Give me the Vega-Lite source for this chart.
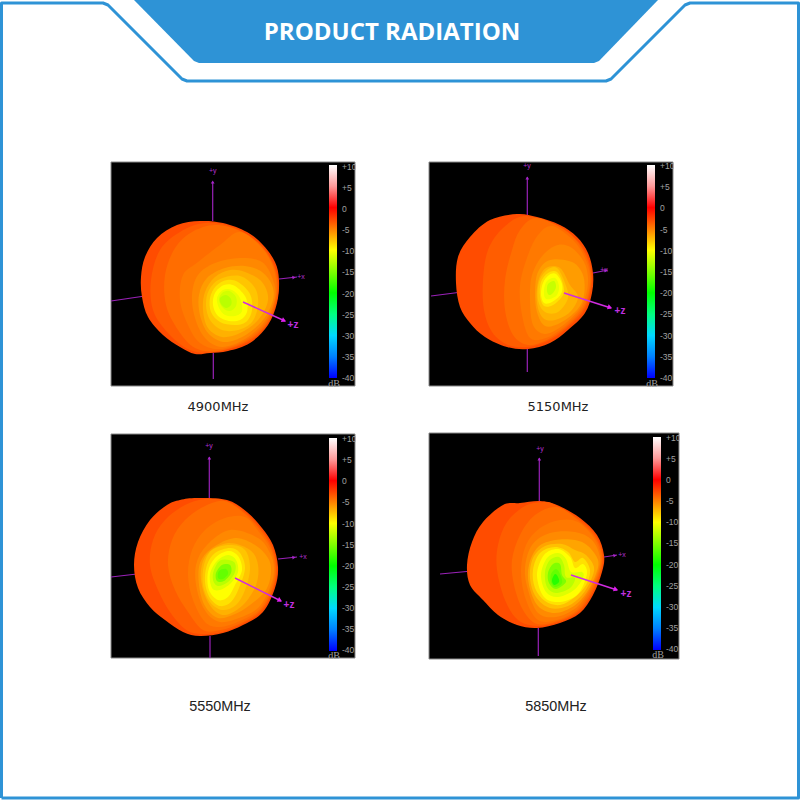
{"$schema":"https://vega.github.io/schema/vega-lite/v6.json","width":800,"height":800,"padding":0,"autosize":{"type":"none"},"background":"white","config":{"view":{"stroke":null}},
"datasets":{
"frame":[{"i":1,"x":1.5,"y":798},{"i":2,"x":1.5,"y":3},{"i":3,"x":103,"y":3},{"i":4,"x":108,"y":5},{"i":5,"x":182,"y":79},{"i":6,"x":187,"y":81},{"i":7,"x":606,"y":81},{"i":8,"x":611,"y":79},{"i":9,"x":685,"y":5},{"i":10,"x":690,"y":3},{"i":11,"x":798.5,"y":3},{"i":12,"x":798.5,"y":798},{"i":13,"x":1.5,"y":798}],
"banner":[{"i":1,"x":134,"y":0},{"i":2,"x":194,"y":61},{"i":3,"x":199,"y":63},{"i":4,"x":594,"y":63},{"i":5,"x":599,"y":61},{"i":6,"x":658,"y":0}],
"panels":[{"x":111,"x2":355,"y":162,"y2":386},{"x":429,"x2":673,"y":162,"y2":386},{"x":111,"x2":355,"y":434,"y2":658},{"x":429,"x2":679,"y":433,"y2":659}],
"bars":[{"x":329,"x2":337,"y":165,"y2":378},{"x":647,"x2":655,"y":165,"y2":378},{"x":329,"x2":337,"y":438,"y2":651},{"x":653,"x2":661,"y":437,"y2":650}],
"contours":[
{"c":"a0","i":1,"x":200,"y":221,"d":-1.9},{"c":"a0","i":2,"x":223,"y":223,"d":-1.9},{"c":"a0","i":3,"x":247,"y":232,"d":-1.9},{"c":"a0","i":4,"x":263,"y":245,"d":-1.9},{"c":"a0","i":5,"x":275,"y":262,"d":-1.9},{"c":"a0","i":6,"x":279,"y":280,"d":-1.9},{"c":"a0","i":7,"x":277,"y":303,"d":-1.9},{"c":"a0","i":8,"x":268,"y":325,"d":-1.9},{"c":"a0","i":9,"x":250,"y":343,"d":-1.9},{"c":"a0","i":10,"x":228,"y":351,"d":-1.9},{"c":"a0","i":11,"x":210,"y":353,"d":-1.9},{"c":"a0","i":12,"x":195,"y":354,"d":-1.9},{"c":"a0","i":13,"x":180,"y":347,"d":-1.9},{"c":"a0","i":14,"x":163,"y":335,"d":-1.9},{"c":"a0","i":15,"x":148,"y":317,"d":-1.9},{"c":"a0","i":16,"x":142,"y":297,"d":-1.9},{"c":"a0","i":17,"x":141,"y":277,"d":-1.9},{"c":"a0","i":18,"x":145,"y":257,"d":-1.9},{"c":"a0","i":19,"x":157,"y":238,"d":-1.9},{"c":"a0","i":20,"x":177,"y":225,"d":-1.9},
{"c":"a1","i":1,"x":205,"y":223,"d":-2.8},{"c":"a1","i":2,"x":235,"y":228,"d":-2.8},{"c":"a1","i":3,"x":262,"y":246,"d":-2.8},{"c":"a1","i":4,"x":276,"y":270,"d":-2.8},{"c":"a1","i":5,"x":278,"y":295,"d":-2.8},{"c":"a1","i":6,"x":268,"y":323,"d":-2.8},{"c":"a1","i":7,"x":248,"y":342,"d":-2.8},{"c":"a1","i":8,"x":215,"y":352,"d":-2.8},{"c":"a1","i":9,"x":190,"y":350,"d":-2.8},{"c":"a1","i":10,"x":168,"y":333,"d":-2.8},{"c":"a1","i":11,"x":153,"y":310,"d":-2.8},{"c":"a1","i":12,"x":151,"y":280,"d":-2.8},{"c":"a1","i":13,"x":160,"y":250,"d":-2.8},{"c":"a1","i":14,"x":180,"y":232,"d":-2.8},
{"c":"a2","i":1,"x":215,"y":225,"d":-3.7},{"c":"a2","i":2,"x":240,"y":231,"d":-3.7},{"c":"a2","i":3,"x":262,"y":247,"d":-3.7},{"c":"a2","i":4,"x":275,"y":270,"d":-3.7},{"c":"a2","i":5,"x":277,"y":295,"d":-3.7},{"c":"a2","i":6,"x":267,"y":323,"d":-3.7},{"c":"a2","i":7,"x":247,"y":341,"d":-3.7},{"c":"a2","i":8,"x":218,"y":351,"d":-3.7},{"c":"a2","i":9,"x":195,"y":348,"d":-3.7},{"c":"a2","i":10,"x":178,"y":330,"d":-3.7},{"c":"a2","i":11,"x":166,"y":305,"d":-3.7},{"c":"a2","i":12,"x":165,"y":275,"d":-3.7},{"c":"a2","i":13,"x":175,"y":248,"d":-3.7},{"c":"a2","i":14,"x":192,"y":232,"d":-3.7},
{"c":"a3","i":1,"x":240,"y":232,"d":-4.5},{"c":"a3","i":2,"x":262,"y":248,"d":-4.5},{"c":"a3","i":3,"x":274,"y":270,"d":-4.5},{"c":"a3","i":4,"x":276,"y":295,"d":-4.5},{"c":"a3","i":5,"x":266,"y":322,"d":-4.5},{"c":"a3","i":6,"x":246,"y":340,"d":-4.5},{"c":"a3","i":7,"x":220,"y":349,"d":-4.5},{"c":"a3","i":8,"x":200,"y":343,"d":-4.5},{"c":"a3","i":9,"x":188,"y":325,"d":-4.5},{"c":"a3","i":10,"x":180,"y":300,"d":-4.5},{"c":"a3","i":11,"x":183,"y":275,"d":-4.5},{"c":"a3","i":12,"x":198,"y":262,"d":-4.5},{"c":"a3","i":13,"x":220,"y":245,"d":-4.5},
{"c":"a4","i":1,"x":262,"y":262,"d":-5.3},{"c":"a4","i":2,"x":273,"y":280,"d":-5.3},{"c":"a4","i":3,"x":275,"y":298,"d":-5.3},{"c":"a4","i":4,"x":265,"y":321,"d":-5.3},{"c":"a4","i":5,"x":245,"y":339,"d":-5.3},{"c":"a4","i":6,"x":222,"y":347,"d":-5.3},{"c":"a4","i":7,"x":205,"y":338,"d":-5.3},{"c":"a4","i":8,"x":195,"y":318,"d":-5.3},{"c":"a4","i":9,"x":192,"y":295,"d":-5.3},{"c":"a4","i":10,"x":198,"y":275,"d":-5.3},{"c":"a4","i":11,"x":215,"y":263,"d":-5.3},{"c":"a4","i":12,"x":240,"y":258,"d":-5.3},
{"c":"a5","i":1,"x":262,"y":272,"d":-6.1},{"c":"a5","i":2,"x":272,"y":285,"d":-6.1},{"c":"a5","i":3,"x":273,"y":300,"d":-6.1},{"c":"a5","i":4,"x":263,"y":320,"d":-6.1},{"c":"a5","i":5,"x":244,"y":336,"d":-6.1},{"c":"a5","i":6,"x":224,"y":342,"d":-6.1},{"c":"a5","i":7,"x":208,"y":333,"d":-6.1},{"c":"a5","i":8,"x":200,"y":315,"d":-6.1},{"c":"a5","i":9,"x":199,"y":295,"d":-6.1},{"c":"a5","i":10,"x":207,"y":278,"d":-6.1},{"c":"a5","i":11,"x":225,"y":268,"d":-6.1},{"c":"a5","i":12,"x":245,"y":266,"d":-6.1},
{"c":"a6","i":1,"x":245,"y":272,"d":-6.9},{"c":"a6","i":2,"x":262,"y":282,"d":-6.9},{"c":"a6","i":3,"x":268,"y":300,"d":-6.9},{"c":"a6","i":4,"x":258,"y":320,"d":-6.9},{"c":"a6","i":5,"x":240,"y":333,"d":-6.9},{"c":"a6","i":6,"x":222,"y":337,"d":-6.9},{"c":"a6","i":7,"x":208,"y":328,"d":-6.9},{"c":"a6","i":8,"x":203,"y":310,"d":-6.9},{"c":"a6","i":9,"x":205,"y":292,"d":-6.9},{"c":"a6","i":10,"x":215,"y":277,"d":-6.9},{"c":"a6","i":11,"x":230,"y":270,"d":-6.9},
{"c":"a7","i":1,"x":240,"y":276,"d":-7.7},{"c":"a7","i":2,"x":255,"y":288,"d":-7.7},{"c":"a7","i":3,"x":258,"y":305,"d":-7.7},{"c":"a7","i":4,"x":252,"y":322,"d":-7.7},{"c":"a7","i":5,"x":238,"y":330,"d":-7.7},{"c":"a7","i":6,"x":222,"y":330,"d":-7.7},{"c":"a7","i":7,"x":210,"y":320,"d":-7.7},{"c":"a7","i":8,"x":206,"y":305,"d":-7.7},{"c":"a7","i":9,"x":209,"y":290,"d":-7.7},{"c":"a7","i":10,"x":220,"y":279,"d":-7.7},
{"c":"a8","i":1,"x":238,"y":282,"d":-8.8},{"c":"a8","i":2,"x":250,"y":294,"d":-8.8},{"c":"a8","i":3,"x":252,"y":310,"d":-8.8},{"c":"a8","i":4,"x":246,"y":322,"d":-8.8},{"c":"a8","i":5,"x":234,"y":325,"d":-8.8},{"c":"a8","i":6,"x":220,"y":322,"d":-8.8},{"c":"a8","i":7,"x":211,"y":312,"d":-8.8},{"c":"a8","i":8,"x":210,"y":298,"d":-8.8},{"c":"a8","i":9,"x":216,"y":286,"d":-8.8},{"c":"a8","i":10,"x":227,"y":280,"d":-8.8},
{"c":"a9","i":1,"x":235,"y":286,"d":-10},{"c":"a9","i":2,"x":246,"y":298,"d":-10},{"c":"a9","i":3,"x":247,"y":312,"d":-10},{"c":"a9","i":4,"x":240,"y":320,"d":-10},{"c":"a9","i":5,"x":229,"y":321,"d":-10},{"c":"a9","i":6,"x":218,"y":316,"d":-10},{"c":"a9","i":7,"x":213,"y":305,"d":-10},{"c":"a9","i":8,"x":215,"y":293,"d":-10},{"c":"a9","i":9,"x":224,"y":285,"d":-10},
{"c":"a10","i":1,"x":232,"y":290,"d":-11},{"c":"a10","i":2,"x":240,"y":298,"d":-11},{"c":"a10","i":3,"x":242,"y":311,"d":-11},{"c":"a10","i":4,"x":235,"y":316,"d":-11},{"c":"a10","i":5,"x":225,"y":315,"d":-11},{"c":"a10","i":6,"x":219,"y":308,"d":-11},{"c":"a10","i":7,"x":217,"y":298,"d":-11},{"c":"a10","i":8,"x":223,"y":290,"d":-11},
{"c":"a11","i":1,"x":229,"y":291,"d":-12},{"c":"a11","i":2,"x":236,"y":297,"d":-12},{"c":"a11","i":3,"x":236,"y":306,"d":-12},{"c":"a11","i":4,"x":230,"y":311,"d":-12},{"c":"a11","i":5,"x":223,"y":308,"d":-12},{"c":"a11","i":6,"x":219,"y":300,"d":-12},{"c":"a11","i":7,"x":222,"y":293,"d":-12},
{"c":"a12","i":1,"x":226,"y":295,"d":-13},{"c":"a12","i":2,"x":231,"y":299,"d":-13},{"c":"a12","i":3,"x":231,"y":305,"d":-13},{"c":"a12","i":4,"x":226,"y":308,"d":-13},{"c":"a12","i":5,"x":221,"y":304,"d":-13},{"c":"a12","i":6,"x":220,"y":298,"d":-13},
{"c":"b0","i":1,"x":517,"y":214,"d":-1.9},{"c":"b0","i":2,"x":537,"y":217,"d":-1.9},{"c":"b0","i":3,"x":560,"y":225,"d":-1.9},{"c":"b0","i":4,"x":577,"y":237,"d":-1.9},{"c":"b0","i":5,"x":588,"y":253,"d":-1.9},{"c":"b0","i":6,"x":593,"y":273,"d":-1.9},{"c":"b0","i":7,"x":592,"y":293,"d":-1.9},{"c":"b0","i":8,"x":585,"y":313,"d":-1.9},{"c":"b0","i":9,"x":568,"y":330,"d":-1.9},{"c":"b0","i":10,"x":550,"y":343,"d":-1.9},{"c":"b0","i":11,"x":528,"y":349,"d":-1.9},{"c":"b0","i":12,"x":507,"y":347,"d":-1.9},{"c":"b0","i":13,"x":485,"y":337,"d":-1.9},{"c":"b0","i":14,"x":470,"y":323,"d":-1.9},{"c":"b0","i":15,"x":460,"y":307,"d":-1.9},{"c":"b0","i":16,"x":456,"y":283,"d":-1.9},{"c":"b0","i":17,"x":458,"y":257,"d":-1.9},{"c":"b0","i":18,"x":470,"y":237,"d":-1.9},{"c":"b0","i":19,"x":490,"y":220,"d":-1.9},
{"c":"b1","i":1,"x":525,"y":216,"d":-2.8},{"c":"b1","i":2,"x":557,"y":225,"d":-2.8},{"c":"b1","i":3,"x":575,"y":238,"d":-2.8},{"c":"b1","i":4,"x":587,"y":255,"d":-2.8},{"c":"b1","i":5,"x":592,"y":275,"d":-2.8},{"c":"b1","i":6,"x":590,"y":294,"d":-2.8},{"c":"b1","i":7,"x":583,"y":312,"d":-2.8},{"c":"b1","i":8,"x":566,"y":329,"d":-2.8},{"c":"b1","i":9,"x":548,"y":341,"d":-2.8},{"c":"b1","i":10,"x":528,"y":347,"d":-2.8},{"c":"b1","i":11,"x":508,"y":345,"d":-2.8},{"c":"b1","i":12,"x":492,"y":332,"d":-2.8},{"c":"b1","i":13,"x":484,"y":310,"d":-2.8},{"c":"b1","i":14,"x":483,"y":280,"d":-2.8},{"c":"b1","i":15,"x":488,"y":250,"d":-2.8},{"c":"b1","i":16,"x":503,"y":228,"d":-2.8},
{"c":"b2","i":1,"x":535,"y":218,"d":-3.7},{"c":"b2","i":2,"x":558,"y":226,"d":-3.7},{"c":"b2","i":3,"x":575,"y":239,"d":-3.7},{"c":"b2","i":4,"x":586,"y":256,"d":-3.7},{"c":"b2","i":5,"x":591,"y":275,"d":-3.7},{"c":"b2","i":6,"x":589,"y":294,"d":-3.7},{"c":"b2","i":7,"x":582,"y":311,"d":-3.7},{"c":"b2","i":8,"x":565,"y":328,"d":-3.7},{"c":"b2","i":9,"x":547,"y":340,"d":-3.7},{"c":"b2","i":10,"x":528,"y":345,"d":-3.7},{"c":"b2","i":11,"x":513,"y":335,"d":-3.7},{"c":"b2","i":12,"x":505,"y":310,"d":-3.7},{"c":"b2","i":13,"x":505,"y":280,"d":-3.7},{"c":"b2","i":14,"x":512,"y":250,"d":-3.7},{"c":"b2","i":15,"x":520,"y":230,"d":-3.7},
{"c":"b3","i":1,"x":552,"y":226,"d":-4.5},{"c":"b3","i":2,"x":573,"y":240,"d":-4.5},{"c":"b3","i":3,"x":585,"y":258,"d":-4.5},{"c":"b3","i":4,"x":590,"y":276,"d":-4.5},{"c":"b3","i":5,"x":588,"y":294,"d":-4.5},{"c":"b3","i":6,"x":581,"y":310,"d":-4.5},{"c":"b3","i":7,"x":564,"y":327,"d":-4.5},{"c":"b3","i":8,"x":546,"y":338,"d":-4.5},{"c":"b3","i":9,"x":530,"y":338,"d":-4.5},{"c":"b3","i":10,"x":522,"y":315,"d":-4.5},{"c":"b3","i":11,"x":520,"y":285,"d":-4.5},{"c":"b3","i":12,"x":528,"y":255,"d":-4.5},{"c":"b3","i":13,"x":538,"y":235,"d":-4.5},
{"c":"b4","i":1,"x":572,"y":248,"d":-5.3},{"c":"b4","i":2,"x":584,"y":262,"d":-5.3},{"c":"b4","i":3,"x":588,"y":278,"d":-5.3},{"c":"b4","i":4,"x":586,"y":295,"d":-5.3},{"c":"b4","i":5,"x":579,"y":310,"d":-5.3},{"c":"b4","i":6,"x":562,"y":326,"d":-5.3},{"c":"b4","i":7,"x":545,"y":334,"d":-5.3},{"c":"b4","i":8,"x":533,"y":325,"d":-5.3},{"c":"b4","i":9,"x":530,"y":300,"d":-5.3},{"c":"b4","i":10,"x":532,"y":275,"d":-5.3},{"c":"b4","i":11,"x":543,"y":255,"d":-5.3},{"c":"b4","i":12,"x":558,"y":245,"d":-5.3},
{"c":"b5","i":1,"x":572,"y":262,"d":-6.1},{"c":"b5","i":2,"x":583,"y":275,"d":-6.1},{"c":"b5","i":3,"x":584,"y":295,"d":-6.1},{"c":"b5","i":4,"x":577,"y":310,"d":-6.1},{"c":"b5","i":5,"x":560,"y":323,"d":-6.1},{"c":"b5","i":6,"x":545,"y":326,"d":-6.1},{"c":"b5","i":7,"x":537,"y":312,"d":-6.1},{"c":"b5","i":8,"x":535,"y":292,"d":-6.1},{"c":"b5","i":9,"x":538,"y":272,"d":-6.1},{"c":"b5","i":10,"x":550,"y":260,"d":-6.1},
{"c":"b6","i":1,"x":560,"y":268,"d":-6.9},{"c":"b6","i":2,"x":570,"y":285,"d":-6.9},{"c":"b6","i":3,"x":578,"y":297,"d":-6.9},{"c":"b6","i":4,"x":570,"y":312,"d":-6.9},{"c":"b6","i":5,"x":555,"y":320,"d":-6.9},{"c":"b6","i":6,"x":543,"y":318,"d":-6.9},{"c":"b6","i":7,"x":537,"y":303,"d":-6.9},{"c":"b6","i":8,"x":538,"y":282,"d":-6.9},{"c":"b6","i":9,"x":546,"y":268,"d":-6.9},
{"c":"b7","i":1,"x":557,"y":268,"d":-7.7},{"c":"b7","i":2,"x":565,"y":283,"d":-7.7},{"c":"b7","i":3,"x":568,"y":298,"d":-7.7},{"c":"b7","i":4,"x":558,"y":312,"d":-7.7},{"c":"b7","i":5,"x":545,"y":312,"d":-7.7},{"c":"b7","i":6,"x":538,"y":300,"d":-7.7},{"c":"b7","i":7,"x":539,"y":282,"d":-7.7},{"c":"b7","i":8,"x":547,"y":270,"d":-7.7},
{"c":"b8","i":1,"x":557,"y":272,"d":-8.8},{"c":"b8","i":2,"x":563,"y":284,"d":-8.8},{"c":"b8","i":3,"x":563,"y":295,"d":-8.8},{"c":"b8","i":4,"x":553,"y":305,"d":-8.8},{"c":"b8","i":5,"x":544,"y":306,"d":-8.8},{"c":"b8","i":6,"x":540,"y":296,"d":-8.8},{"c":"b8","i":7,"x":541,"y":282,"d":-8.8},{"c":"b8","i":8,"x":548,"y":273,"d":-8.8},
{"c":"b9","i":1,"x":556,"y":274,"d":-10},{"c":"b9","i":2,"x":562,"y":284,"d":-10},{"c":"b9","i":3,"x":561,"y":294,"d":-10},{"c":"b9","i":4,"x":552,"y":302,"d":-10},{"c":"b9","i":5,"x":544,"y":303,"d":-10},{"c":"b9","i":6,"x":541,"y":294,"d":-10},{"c":"b9","i":7,"x":543,"y":283,"d":-10},{"c":"b9","i":8,"x":549,"y":275,"d":-10},
{"c":"b10","i":1,"x":555,"y":278,"d":-11},{"c":"b10","i":2,"x":559,"y":286,"d":-11},{"c":"b10","i":3,"x":557,"y":295,"d":-11},{"c":"b10","i":4,"x":550,"y":299,"d":-11},{"c":"b10","i":5,"x":545,"y":298,"d":-11},{"c":"b10","i":6,"x":544,"y":290,"d":-11},{"c":"b10","i":7,"x":547,"y":281,"d":-11},
{"c":"b11","i":1,"x":554,"y":281,"d":-12.5},{"c":"b11","i":2,"x":556,"y":287,"d":-12.5},{"c":"b11","i":3,"x":553,"y":293,"d":-12.5},{"c":"b11","i":4,"x":549,"y":295,"d":-12.5},{"c":"b11","i":5,"x":547,"y":291,"d":-12.5},{"c":"b11","i":6,"x":548,"y":284,"d":-12.5},
{"c":"c0","i":1,"x":197,"y":498,"d":-1.9},{"c":"c0","i":2,"x":227,"y":500,"d":-1.9},{"c":"c0","i":3,"x":247,"y":512,"d":-1.9},{"c":"c0","i":4,"x":262,"y":528,"d":-1.9},{"c":"c0","i":5,"x":273,"y":545,"d":-1.9},{"c":"c0","i":6,"x":278,"y":567,"d":-1.9},{"c":"c0","i":7,"x":275,"y":588,"d":-1.9},{"c":"c0","i":8,"x":263,"y":612,"d":-1.9},{"c":"c0","i":9,"x":243,"y":625,"d":-1.9},{"c":"c0","i":10,"x":223,"y":633,"d":-1.9},{"c":"c0","i":11,"x":200,"y":636,"d":-1.9},{"c":"c0","i":12,"x":183,"y":632,"d":-1.9},{"c":"c0","i":13,"x":165,"y":620,"d":-1.9},{"c":"c0","i":14,"x":150,"y":607,"d":-1.9},{"c":"c0","i":15,"x":138,"y":588,"d":-1.9},{"c":"c0","i":16,"x":134,"y":565,"d":-1.9},{"c":"c0","i":17,"x":138,"y":542,"d":-1.9},{"c":"c0","i":18,"x":150,"y":520,"d":-1.9},{"c":"c0","i":19,"x":167,"y":505,"d":-1.9},{"c":"c0","i":20,"x":180,"y":500,"d":-1.9},
{"c":"c1","i":1,"x":205,"y":499,"d":-2.8},{"c":"c1","i":2,"x":227,"y":501,"d":-2.8},{"c":"c1","i":3,"x":246,"y":513,"d":-2.8},{"c":"c1","i":4,"x":261,"y":529,"d":-2.8},{"c":"c1","i":5,"x":272,"y":546,"d":-2.8},{"c":"c1","i":6,"x":277,"y":567,"d":-2.8},{"c":"c1","i":7,"x":274,"y":587,"d":-2.8},{"c":"c1","i":8,"x":262,"y":611,"d":-2.8},{"c":"c1","i":9,"x":242,"y":624,"d":-2.8},{"c":"c1","i":10,"x":222,"y":632,"d":-2.8},{"c":"c1","i":11,"x":200,"y":634,"d":-2.8},{"c":"c1","i":12,"x":185,"y":629,"d":-2.8},{"c":"c1","i":13,"x":170,"y":612,"d":-2.8},{"c":"c1","i":14,"x":158,"y":590,"d":-2.8},{"c":"c1","i":15,"x":150,"y":565,"d":-2.8},{"c":"c1","i":16,"x":153,"y":540,"d":-2.8},{"c":"c1","i":17,"x":165,"y":520,"d":-2.8},{"c":"c1","i":18,"x":185,"y":505,"d":-2.8},
{"c":"c2","i":1,"x":225,"y":501,"d":-3.7},{"c":"c2","i":2,"x":245,"y":514,"d":-3.7},{"c":"c2","i":3,"x":260,"y":530,"d":-3.7},{"c":"c2","i":4,"x":271,"y":547,"d":-3.7},{"c":"c2","i":5,"x":276,"y":567,"d":-3.7},{"c":"c2","i":6,"x":273,"y":587,"d":-3.7},{"c":"c2","i":7,"x":261,"y":610,"d":-3.7},{"c":"c2","i":8,"x":241,"y":623,"d":-3.7},{"c":"c2","i":9,"x":221,"y":630,"d":-3.7},{"c":"c2","i":10,"x":203,"y":630,"d":-3.7},{"c":"c2","i":11,"x":188,"y":612,"d":-3.7},{"c":"c2","i":12,"x":175,"y":590,"d":-3.7},{"c":"c2","i":13,"x":168,"y":565,"d":-3.7},{"c":"c2","i":14,"x":172,"y":540,"d":-3.7},{"c":"c2","i":15,"x":185,"y":520,"d":-3.7},{"c":"c2","i":16,"x":205,"y":506,"d":-3.7},
{"c":"c3","i":1,"x":245,"y":517,"d":-4.5},{"c":"c3","i":2,"x":259,"y":532,"d":-4.5},{"c":"c3","i":3,"x":270,"y":548,"d":-4.5},{"c":"c3","i":4,"x":275,"y":567,"d":-4.5},{"c":"c3","i":5,"x":272,"y":586,"d":-4.5},{"c":"c3","i":6,"x":260,"y":609,"d":-4.5},{"c":"c3","i":7,"x":240,"y":621,"d":-4.5},{"c":"c3","i":8,"x":220,"y":627,"d":-4.5},{"c":"c3","i":9,"x":205,"y":622,"d":-4.5},{"c":"c3","i":10,"x":193,"y":600,"d":-4.5},{"c":"c3","i":11,"x":188,"y":575,"d":-4.5},{"c":"c3","i":12,"x":192,"y":550,"d":-4.5},{"c":"c3","i":13,"x":205,"y":530,"d":-4.5},{"c":"c3","i":14,"x":225,"y":518,"d":-4.5},
{"c":"c4","i":1,"x":258,"y":538,"d":-5.3},{"c":"c4","i":2,"x":270,"y":553,"d":-5.3},{"c":"c4","i":3,"x":274,"y":568,"d":-5.3},{"c":"c4","i":4,"x":271,"y":585,"d":-5.3},{"c":"c4","i":5,"x":259,"y":607,"d":-5.3},{"c":"c4","i":6,"x":239,"y":618,"d":-5.3},{"c":"c4","i":7,"x":220,"y":622,"d":-5.3},{"c":"c4","i":8,"x":206,"y":612,"d":-5.3},{"c":"c4","i":9,"x":197,"y":590,"d":-5.3},{"c":"c4","i":10,"x":196,"y":565,"d":-5.3},{"c":"c4","i":11,"x":207,"y":545,"d":-5.3},{"c":"c4","i":12,"x":230,"y":530,"d":-5.3},
{"c":"c5","i":1,"x":255,"y":545,"d":-6.1},{"c":"c5","i":2,"x":268,"y":558,"d":-6.1},{"c":"c5","i":3,"x":271,"y":572,"d":-6.1},{"c":"c5","i":4,"x":266,"y":590,"d":-6.1},{"c":"c5","i":5,"x":250,"y":605,"d":-6.1},{"c":"c5","i":6,"x":235,"y":614,"d":-6.1},{"c":"c5","i":7,"x":218,"y":618,"d":-6.1},{"c":"c5","i":8,"x":205,"y":606,"d":-6.1},{"c":"c5","i":9,"x":199,"y":585,"d":-6.1},{"c":"c5","i":10,"x":200,"y":563,"d":-6.1},{"c":"c5","i":11,"x":212,"y":548,"d":-6.1},{"c":"c5","i":12,"x":235,"y":538,"d":-6.1},
{"c":"c6","i":1,"x":250,"y":550,"d":-6.9},{"c":"c6","i":2,"x":258,"y":565,"d":-6.9},{"c":"c6","i":3,"x":256,"y":585,"d":-6.9},{"c":"c6","i":4,"x":243,"y":605,"d":-6.9},{"c":"c6","i":5,"x":225,"y":615,"d":-6.9},{"c":"c6","i":6,"x":212,"y":608,"d":-6.9},{"c":"c6","i":7,"x":203,"y":590,"d":-6.9},{"c":"c6","i":8,"x":201,"y":570,"d":-6.9},{"c":"c6","i":9,"x":208,"y":553,"d":-6.9},{"c":"c6","i":10,"x":228,"y":543,"d":-6.9},
{"c":"c7","i":1,"x":245,"y":550,"d":-7.7},{"c":"c7","i":2,"x":250,"y":568,"d":-7.7},{"c":"c7","i":3,"x":245,"y":590,"d":-7.7},{"c":"c7","i":4,"x":236,"y":605,"d":-7.7},{"c":"c7","i":5,"x":222,"y":610,"d":-7.7},{"c":"c7","i":6,"x":210,"y":602,"d":-7.7},{"c":"c7","i":7,"x":203,"y":585,"d":-7.7},{"c":"c7","i":8,"x":204,"y":565,"d":-7.7},{"c":"c7","i":9,"x":212,"y":550,"d":-7.7},{"c":"c7","i":10,"x":230,"y":545,"d":-7.7},
{"c":"c8","i":1,"x":240,"y":553,"d":-8.8},{"c":"c8","i":2,"x":245,"y":568,"d":-8.8},{"c":"c8","i":3,"x":239,"y":588,"d":-8.8},{"c":"c8","i":4,"x":231,"y":602,"d":-8.8},{"c":"c8","i":5,"x":220,"y":606,"d":-8.8},{"c":"c8","i":6,"x":210,"y":598,"d":-8.8},{"c":"c8","i":7,"x":205,"y":582,"d":-8.8},{"c":"c8","i":8,"x":207,"y":565,"d":-8.8},{"c":"c8","i":9,"x":215,"y":553,"d":-8.8},{"c":"c8","i":10,"x":230,"y":548,"d":-8.8},
{"c":"c9","i":1,"x":238,"y":556,"d":-10},{"c":"c9","i":2,"x":242,"y":570,"d":-10},{"c":"c9","i":3,"x":235,"y":585,"d":-10},{"c":"c9","i":4,"x":228,"y":597,"d":-10},{"c":"c9","i":5,"x":218,"y":600,"d":-10},{"c":"c9","i":6,"x":209,"y":590,"d":-10},{"c":"c9","i":7,"x":208,"y":572,"d":-10},{"c":"c9","i":8,"x":215,"y":558,"d":-10},{"c":"c9","i":9,"x":228,"y":551,"d":-10},
{"c":"c10","i":1,"x":236,"y":560,"d":-11.5},{"c":"c10","i":2,"x":238,"y":572,"d":-11.5},{"c":"c10","i":3,"x":231,"y":583,"d":-11.5},{"c":"c10","i":4,"x":220,"y":590,"d":-11.5},{"c":"c10","i":5,"x":212,"y":588,"d":-11.5},{"c":"c10","i":6,"x":210,"y":574,"d":-11.5},{"c":"c10","i":7,"x":217,"y":561,"d":-11.5},{"c":"c10","i":8,"x":228,"y":555,"d":-11.5},
{"c":"c11","i":1,"x":234,"y":562,"d":-13},{"c":"c11","i":2,"x":235,"y":572,"d":-13},{"c":"c11","i":3,"x":228,"y":582,"d":-13},{"c":"c11","i":4,"x":218,"y":586,"d":-13},{"c":"c11","i":5,"x":213,"y":580,"d":-13},{"c":"c11","i":6,"x":214,"y":570,"d":-13},{"c":"c11","i":7,"x":221,"y":560,"d":-13},
{"c":"c12","i":1,"x":230,"y":565,"d":-15},{"c":"c12","i":2,"x":231,"y":573,"d":-15},{"c":"c12","i":3,"x":224,"y":581,"d":-15},{"c":"c12","i":4,"x":217,"y":581,"d":-15},{"c":"c12","i":5,"x":216,"y":573,"d":-15},{"c":"c12","i":6,"x":222,"y":565,"d":-15},
{"c":"c13","i":1,"x":226,"y":569,"d":-17},{"c":"c13","i":2,"x":228,"y":574,"d":-17},{"c":"c13","i":3,"x":223,"y":579,"d":-17},{"c":"c13","i":4,"x":218,"y":578,"d":-17},{"c":"c13","i":5,"x":219,"y":571,"d":-17},
{"c":"d0","i":1,"x":540,"y":501,"d":-1.9},{"c":"d0","i":2,"x":557,"y":505,"d":-1.9},{"c":"d0","i":3,"x":580,"y":518,"d":-1.9},{"c":"d0","i":4,"x":597,"y":535,"d":-1.9},{"c":"d0","i":5,"x":604,"y":555,"d":-1.9},{"c":"d0","i":6,"x":602,"y":572,"d":-1.9},{"c":"d0","i":7,"x":593,"y":595,"d":-1.9},{"c":"d0","i":8,"x":580,"y":613,"d":-1.9},{"c":"d0","i":9,"x":560,"y":623,"d":-1.9},{"c":"d0","i":10,"x":537,"y":628,"d":-1.9},{"c":"d0","i":11,"x":517,"y":625,"d":-1.9},{"c":"d0","i":12,"x":498,"y":615,"d":-1.9},{"c":"d0","i":13,"x":483,"y":600,"d":-1.9},{"c":"d0","i":14,"x":470,"y":585,"d":-1.9},{"c":"d0","i":15,"x":467,"y":565,"d":-1.9},{"c":"d0","i":16,"x":472,"y":542,"d":-1.9},{"c":"d0","i":17,"x":483,"y":522,"d":-1.9},{"c":"d0","i":18,"x":503,"y":505,"d":-1.9},{"c":"d0","i":19,"x":520,"y":503,"d":-1.9},
{"c":"d1","i":1,"x":545,"y":502,"d":-2.8},{"c":"d1","i":2,"x":557,"y":506,"d":-2.8},{"c":"d1","i":3,"x":579,"y":519,"d":-2.8},{"c":"d1","i":4,"x":596,"y":536,"d":-2.8},{"c":"d1","i":5,"x":603,"y":555,"d":-2.8},{"c":"d1","i":6,"x":601,"y":572,"d":-2.8},{"c":"d1","i":7,"x":592,"y":594,"d":-2.8},{"c":"d1","i":8,"x":579,"y":612,"d":-2.8},{"c":"d1","i":9,"x":559,"y":622,"d":-2.8},{"c":"d1","i":10,"x":537,"y":626,"d":-2.8},{"c":"d1","i":11,"x":518,"y":620,"d":-2.8},{"c":"d1","i":12,"x":505,"y":600,"d":-2.8},{"c":"d1","i":13,"x":497,"y":570,"d":-2.8},{"c":"d1","i":14,"x":498,"y":545,"d":-2.8},{"c":"d1","i":15,"x":507,"y":522,"d":-2.8},{"c":"d1","i":16,"x":525,"y":506,"d":-2.8},
{"c":"d2","i":1,"x":557,"y":507,"d":-3.7},{"c":"d2","i":2,"x":578,"y":520,"d":-3.7},{"c":"d2","i":3,"x":595,"y":537,"d":-3.7},{"c":"d2","i":4,"x":602,"y":555,"d":-3.7},{"c":"d2","i":5,"x":600,"y":572,"d":-3.7},{"c":"d2","i":6,"x":591,"y":593,"d":-3.7},{"c":"d2","i":7,"x":578,"y":611,"d":-3.7},{"c":"d2","i":8,"x":558,"y":621,"d":-3.7},{"c":"d2","i":9,"x":537,"y":624,"d":-3.7},{"c":"d2","i":10,"x":523,"y":610,"d":-3.7},{"c":"d2","i":11,"x":514,"y":585,"d":-3.7},{"c":"d2","i":12,"x":512,"y":560,"d":-3.7},{"c":"d2","i":13,"x":520,"y":535,"d":-3.7},{"c":"d2","i":14,"x":535,"y":515,"d":-3.7},
{"c":"d3","i":1,"x":578,"y":522,"d":-4.5},{"c":"d3","i":2,"x":594,"y":538,"d":-4.5},{"c":"d3","i":3,"x":601,"y":556,"d":-4.5},{"c":"d3","i":4,"x":599,"y":572,"d":-4.5},{"c":"d3","i":5,"x":590,"y":592,"d":-4.5},{"c":"d3","i":6,"x":577,"y":610,"d":-4.5},{"c":"d3","i":7,"x":557,"y":620,"d":-4.5},{"c":"d3","i":8,"x":538,"y":620,"d":-4.5},{"c":"d3","i":9,"x":526,"y":600,"d":-4.5},{"c":"d3","i":10,"x":521,"y":572,"d":-4.5},{"c":"d3","i":11,"x":526,"y":545,"d":-4.5},{"c":"d3","i":12,"x":540,"y":528,"d":-4.5},{"c":"d3","i":13,"x":560,"y":520,"d":-4.5},
{"c":"d4","i":1,"x":592,"y":540,"d":-5.4},{"c":"d4","i":2,"x":600,"y":557,"d":-5.4},{"c":"d4","i":3,"x":598,"y":572,"d":-5.4},{"c":"d4","i":4,"x":589,"y":591,"d":-5.4},{"c":"d4","i":5,"x":576,"y":608,"d":-5.4},{"c":"d4","i":6,"x":556,"y":617,"d":-5.4},{"c":"d4","i":7,"x":538,"y":613,"d":-5.4},{"c":"d4","i":8,"x":528,"y":590,"d":-5.4},{"c":"d4","i":9,"x":525,"y":568,"d":-5.4},{"c":"d4","i":10,"x":532,"y":545,"d":-5.4},{"c":"d4","i":11,"x":550,"y":533,"d":-5.4},{"c":"d4","i":12,"x":575,"y":532,"d":-5.4},
{"c":"d5","i":1,"x":588,"y":546,"d":-6.4},{"c":"d5","i":2,"x":598,"y":560,"d":-6.4},{"c":"d5","i":3,"x":596,"y":574,"d":-6.4},{"c":"d5","i":4,"x":587,"y":592,"d":-6.4},{"c":"d5","i":5,"x":574,"y":606,"d":-6.4},{"c":"d5","i":6,"x":555,"y":613,"d":-6.4},{"c":"d5","i":7,"x":538,"y":606,"d":-6.4},{"c":"d5","i":8,"x":529,"y":585,"d":-6.4},{"c":"d5","i":9,"x":529,"y":565,"d":-6.4},{"c":"d5","i":10,"x":538,"y":547,"d":-6.4},{"c":"d5","i":11,"x":555,"y":540,"d":-6.4},{"c":"d5","i":12,"x":575,"y":540,"d":-6.4},
{"c":"d6","i":1,"x":586,"y":555,"d":-7.5},{"c":"d6","i":2,"x":594,"y":567,"d":-7.5},{"c":"d6","i":3,"x":591,"y":580,"d":-7.5},{"c":"d6","i":4,"x":582,"y":595,"d":-7.5},{"c":"d6","i":5,"x":568,"y":606,"d":-7.5},{"c":"d6","i":6,"x":550,"y":608,"d":-7.5},{"c":"d6","i":7,"x":536,"y":597,"d":-7.5},{"c":"d6","i":8,"x":530,"y":578,"d":-7.5},{"c":"d6","i":9,"x":533,"y":558,"d":-7.5},{"c":"d6","i":10,"x":545,"y":546,"d":-7.5},{"c":"d6","i":11,"x":562,"y":544,"d":-7.5},{"c":"d6","i":12,"x":575,"y":550,"d":-7.5},
{"c":"d7","i":1,"x":583,"y":558,"d":-8.8},{"c":"d7","i":2,"x":590,"y":570,"d":-8.8},{"c":"d7","i":3,"x":586,"y":585,"d":-8.8},{"c":"d7","i":4,"x":575,"y":597,"d":-8.8},{"c":"d7","i":5,"x":560,"y":605,"d":-8.8},{"c":"d7","i":6,"x":545,"y":601,"d":-8.8},{"c":"d7","i":7,"x":535,"y":588,"d":-8.8},{"c":"d7","i":8,"x":533,"y":570,"d":-8.8},{"c":"d7","i":9,"x":540,"y":553,"d":-8.8},{"c":"d7","i":10,"x":555,"y":547,"d":-8.8},{"c":"d7","i":11,"x":568,"y":552,"d":-8.8},{"c":"d7","i":12,"x":575,"y":562,"d":-8.8},
{"c":"d8","i":1,"x":583,"y":564,"d":-10},{"c":"d8","i":2,"x":587,"y":574,"d":-10},{"c":"d8","i":3,"x":578,"y":594,"d":-10},{"c":"d8","i":4,"x":560,"y":602,"d":-10},{"c":"d8","i":5,"x":544,"y":597,"d":-10},{"c":"d8","i":6,"x":537,"y":575,"d":-10},{"c":"d8","i":7,"x":544,"y":555,"d":-10},{"c":"d8","i":8,"x":558,"y":549,"d":-10},{"c":"d8","i":9,"x":570,"y":557,"d":-10},{"c":"d8","i":10,"x":575,"y":568,"d":-10},
{"c":"d9","i":1,"x":582,"y":572,"d":-11.5},{"c":"d9","i":2,"x":583,"y":578,"d":-11.5},{"c":"d9","i":3,"x":574,"y":590,"d":-11.5},{"c":"d9","i":4,"x":558,"y":597,"d":-11.5},{"c":"d9","i":5,"x":546,"y":592,"d":-11.5},{"c":"d9","i":6,"x":541,"y":575,"d":-11.5},{"c":"d9","i":7,"x":547,"y":558,"d":-11.5},{"c":"d9","i":8,"x":558,"y":553,"d":-11.5},{"c":"d9","i":9,"x":566,"y":559,"d":-11.5},{"c":"d9","i":10,"x":571,"y":572,"d":-11.5},
{"c":"d10","i":1,"x":575,"y":578,"d":-13},{"c":"d10","i":2,"x":570,"y":588,"d":-13},{"c":"d10","i":3,"x":556,"y":593,"d":-13},{"c":"d10","i":4,"x":547,"y":587,"d":-13},{"c":"d10","i":5,"x":545,"y":572,"d":-13},{"c":"d10","i":6,"x":550,"y":560,"d":-13},{"c":"d10","i":7,"x":559,"y":557,"d":-13},{"c":"d10","i":8,"x":564,"y":565,"d":-13},{"c":"d10","i":9,"x":566,"y":577,"d":-13},
{"c":"d11","i":1,"x":566,"y":582,"d":-15},{"c":"d11","i":2,"x":556,"y":589,"d":-15},{"c":"d11","i":3,"x":549,"y":583,"d":-15},{"c":"d11","i":4,"x":548,"y":573,"d":-15},{"c":"d11","i":5,"x":553,"y":564,"d":-15},{"c":"d11","i":6,"x":560,"y":564,"d":-15},{"c":"d11","i":7,"x":562,"y":575,"d":-15},
{"c":"d12","i":1,"x":562,"y":583,"d":-17},{"c":"d12","i":2,"x":555,"y":587,"d":-17},{"c":"d12","i":3,"x":551,"y":582,"d":-17},{"c":"d12","i":4,"x":551,"y":574,"d":-17},{"c":"d12","i":5,"x":556,"y":569,"d":-17},{"c":"d12","i":6,"x":560,"y":574,"d":-17},
{"c":"d13","i":1,"x":559,"y":582,"d":-19.5},{"c":"d13","i":2,"x":554,"y":585,"d":-19.5},{"c":"d13","i":3,"x":552,"y":580,"d":-19.5},{"c":"d13","i":4,"x":555,"y":574,"d":-19.5},{"c":"d13","i":5,"x":558,"y":577,"d":-19.5}
],
"axes":[{"x":212.7,"y":182,"x2":212.7,"y2":221},{"x":213.3,"y":353,"x2":213.3,"y2":379},{"x":111,"y":301,"x2":145,"y2":296},{"x":279,"y":279,"x2":297,"y2":277},
{"x":527.3,"y":177,"x2":527.3,"y2":215},{"x":527.3,"y":349,"x2":527.3,"y2":372},{"x":431,"y":296,"x2":462,"y2":292},{"x":593,"y":273,"x2":608,"y2":270},
{"x":209.3,"y":457,"x2":209.3,"y2":498},{"x":210,"y":636,"x2":210,"y2":658},{"x":111,"y":577,"x2":137,"y2":574},{"x":278,"y":559,"x2":297,"y2":557},
{"x":539.3,"y":458,"x2":539.3,"y2":501},{"x":538.3,"y":628,"x2":538.3,"y2":656},{"x":440,"y":574,"x2":472,"y2":571},{"x":604,"y":557,"x2":617,"y2":555}],
"zaxes":[{"x":243,"y":302,"x2":285,"y2":321},{"x":564,"y":293,"x2":611,"y2":308},{"x":235,"y":578,"x2":281,"y2":601},{"x":571,"y":575,"x2":617,"y2":590}],
"heads":[{"x":212.7,"y":182,"a":0},{"x":294,"y":277.5,"a":83},{"x":527.3,"y":178,"a":0},{"x":606,"y":270.5,"a":80},{"x":209.3,"y":458,"a":0},{"x":294,"y":557.5,"a":84},{"x":539.3,"y":459,"a":0},{"x":615,"y":555.5,"a":81}],
"zheads":[{"x":284,"y":320.5,"a":114},{"x":610,"y":307.5,"a":108},{"x":280,"y":600.5,"a":117},{"x":616,"y":589.5,"a":108}],
"axislabels":[{"x":212.7,"y":171,"t":"+y"},{"x":301,"y":277,"t":"+x"},{"x":527,"y":166,"t":"+y"},{"x":604,"y":270,"t":"+x"},{"x":209,"y":446,"t":"+y"},{"x":303,"y":557,"t":"+x"},{"x":540,"y":449,"t":"+y"},{"x":622,"y":555,"t":"+x"}],
"zlabels":[{"x":293,"y":325,"t":"+z"},{"x":620,"y":311,"t":"+z"},{"x":289,"y":605,"t":"+z"},{"x":626,"y":594,"t":"+z"}],
"barlabels":[
{"x":342,"y":167,"t":"+10"},{"x":342,"y":188,"t":"+5"},{"x":342,"y":209,"t":"0"},{"x":342,"y":230,"t":"-5"},{"x":342,"y":251,"t":"-10"},{"x":342,"y":272,"t":"-15"},{"x":342,"y":294,"t":"-20"},{"x":342,"y":315,"t":"-25"},{"x":342,"y":336,"t":"-30"},{"x":342,"y":357,"t":"-35"},{"x":342,"y":378,"t":"-40"},
{"x":660,"y":166,"t":"+10"},{"x":660,"y":187,"t":"+5"},{"x":660,"y":208,"t":"0"},{"x":660,"y":230,"t":"-5"},{"x":660,"y":251,"t":"-10"},{"x":660,"y":272,"t":"-15"},{"x":660,"y":293,"t":"-20"},{"x":660,"y":314,"t":"-25"},{"x":660,"y":336,"t":"-30"},{"x":660,"y":357,"t":"-35"},{"x":660,"y":378,"t":"-40"},
{"x":342,"y":439,"t":"+10"},{"x":342,"y":460,"t":"+5"},{"x":342,"y":481,"t":"0"},{"x":342,"y":502,"t":"-5"},{"x":342,"y":524,"t":"-10"},{"x":342,"y":545,"t":"-15"},{"x":342,"y":566,"t":"-20"},{"x":342,"y":587,"t":"-25"},{"x":342,"y":608,"t":"-30"},{"x":342,"y":629,"t":"-35"},{"x":342,"y":650,"t":"-40"},
{"x":666,"y":438,"t":"+10"},{"x":666,"y":459,"t":"+5"},{"x":666,"y":480,"t":"0"},{"x":666,"y":501,"t":"-5"},{"x":666,"y":522,"t":"-10"},{"x":666,"y":543,"t":"-15"},{"x":666,"y":565,"t":"-20"},{"x":666,"y":586,"t":"-25"},{"x":666,"y":607,"t":"-30"},{"x":666,"y":628,"t":"-35"},{"x":666,"y":649,"t":"-40"}],
"db":[{"x":334,"y":384,"t":"dB"},{"x":652,"y":384,"t":"dB"},{"x":334,"y":656,"t":"dB"},{"x":658,"y":655,"t":"dB"}],
"covers":[{"x":356,"x2":366,"y":160,"y2":388},{"x":674,"x2":684,"y":160,"y2":388},{"x":356,"x2":366,"y":432,"y2":660},{"x":680,"x2":690,"y":431,"y2":661}],
"captionsTop":[{"x":218,"y":407,"t":"4900MHz"},{"x":558,"y":407,"t":"5150MHz"}],
"captionsBottom":[{"x":220,"y":706.5,"t":"5550MHz"},{"x":556,"y":706.5,"t":"5850MHz"}],
"title":[{"x":392,"y":33,"t":"PRODUCT RADIATION"}]
},
"encoding":{"x":{"field":"x","type":"quantitative","axis":null,"scale":{"domain":[0,800],"nice":false,"zero":false}},"y":{"field":"y","type":"quantitative","axis":null,"scale":{"domain":[800,0],"nice":false,"zero":false}}},
"layer":[
{"data":{"name":"frame"},"mark":{"type":"line","color":"#2e93d6","strokeWidth":3,"strokeJoin":"round"},"encoding":{"order":{"field":"i","type":"quantitative"}}},
{"data":{"name":"banner"},"mark":{"type":"line","filled":true,"color":"#2e93d6","strokeWidth":0},"encoding":{"order":{"field":"i","type":"quantitative"}}},
{"data":{"name":"title"},"mark":{"type":"text","font":"Open Sans","fontWeight":"bold","fontSize":24,"color":"white","align":"center","baseline":"middle"},"encoding":{"text":{"field":"t"}}},
{"data":{"name":"panels"},"mark":{"type":"rect","color":"black","stroke":"#8a8a8a","strokeWidth":1},"encoding":{"x2":{"field":"x2"},"y2":{"field":"y2"}}},
{"data":{"name":"bars"},"mark":{"type":"rect","fill":{"gradient":"linear","x1":0,"y1":0,"x2":0,"y2":1,"stops":[{"offset":0,"color":"#ffffff"},{"offset":0.1,"color":"#ff9a9a"},{"offset":0.2,"color":"#ff0000"},{"offset":0.3,"color":"#ff8000"},{"offset":0.4,"color":"#ffff00"},{"offset":0.5,"color":"#80ff00"},{"offset":0.6,"color":"#00ff00"},{"offset":0.7,"color":"#00ff80"},{"offset":0.8,"color":"#00d8ff"},{"offset":0.9,"color":"#0080ff"},{"offset":1,"color":"#0000ff"}]}},"encoding":{"x2":{"field":"x2"},"y2":{"field":"y2"}}},
{"data":{"name":"barlabels"},"mark":{"type":"text","font":"Liberation Sans","fontSize":8.5,"color":"#a0a0a0","align":"left","baseline":"middle"},"encoding":{"text":{"field":"t"}}},
{"data":{"name":"db"},"mark":{"type":"text","font":"Liberation Serif","fontSize":10,"color":"#a0a0a0","align":"center","baseline":"middle"},"encoding":{"text":{"field":"t"}}},
{"data":{"name":"covers"},"mark":{"type":"rect","color":"white"},"encoding":{"x2":{"field":"x2"},"y2":{"field":"y2"}}},
{"data":{"name":"axes"},"mark":{"type":"rule","color":"#9a22b8","strokeWidth":1.2},"encoding":{"x2":{"field":"x2"},"y2":{"field":"y2"}}},
{"data":{"name":"contours"},"mark":{"type":"line","filled":true,"interpolate":"cardinal-closed","strokeWidth":0},"encoding":{"detail":{"field":"c"},"order":{"field":"i","type":"quantitative"},"color":{"field":"d","type":"quantitative","legend":null,"scale":{"domain":[-40,-35,-30,-25,-20,-15,-10,-5,0,5,10],"range":["#0000ff","#0080ff","#00d8ff","#00ff80","#00ff00","#80ff00","#ffff00","#ff8000","#ff0000","#ff9a9a","#ffffff"]}}}},
{"data":{"name":"zaxes"},"mark":{"type":"rule","color":"#d02ce0","strokeWidth":1.5},"encoding":{"x2":{"field":"x2"},"y2":{"field":"y2"}}},
{"data":{"name":"heads"},"mark":{"type":"point","shape":"triangle-up","filled":true,"opacity":1,"color":"#a626c8","size":14},"encoding":{"angle":{"field":"a","type":"quantitative","scale":null}}},
{"data":{"name":"zheads"},"mark":{"type":"point","shape":"triangle-up","filled":true,"opacity":1,"color":"#e020f0","size":28},"encoding":{"angle":{"field":"a","type":"quantitative","scale":null}}},
{"data":{"name":"axislabels"},"mark":{"type":"text","font":"Liberation Sans","fontSize":7,"color":"#b030d0","align":"center","baseline":"middle"},"encoding":{"text":{"field":"t"}}},
{"data":{"name":"zlabels"},"mark":{"type":"text","font":"Liberation Sans","fontWeight":"bold","fontSize":10,"color":"#c030e0","align":"center","baseline":"middle"},"encoding":{"text":{"field":"t"}}},
{"data":{"name":"captionsTop"},"mark":{"type":"text","font":"DejaVu Sans","fontSize":13,"color":"#222222","align":"center","baseline":"middle"},"encoding":{"text":{"field":"t"}}},
{"data":{"name":"captionsBottom"},"mark":{"type":"text","font":"Liberation Sans","fontSize":14.4,"color":"#222222","align":"center","baseline":"middle"},"encoding":{"text":{"field":"t"}}}
]}
